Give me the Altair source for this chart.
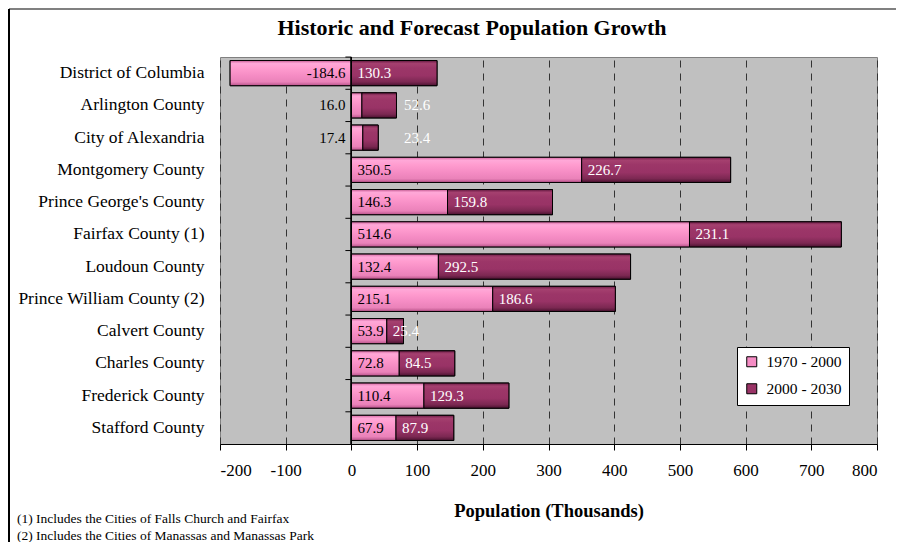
import altair as alt
import pandas as pd

counties = [
    "District of Columbia", "Arlington County", "City of Alexandria",
    "Montgomery County", "Prince George's County", "Fairfax County (1)",
    "Loudoun County", "Prince William County (2)", "Calvert County",
    "Charles County", "Frederick County", "Stafford County",
]
hist = [-184.6, 16.0, 17.4, 350.5, 146.3, 514.6, 132.4, 215.1, 53.9, 72.8, 110.4, 67.9]
fcst = [130.3, 52.6, 23.4, 226.7, 159.8, 231.1, 292.5, 186.6, 25.4, 84.5, 129.3, 87.9]
series = ["1970 - 2000", "2000 - 2030"]
x_ticks = [-200, -100, 0, 100, 200, 300, 400, 500, 600, 700, 800]
notes = [
    "(1) Includes the Cities of Falls Church and Fairfax",
    "(2) Includes the Cities of Manassas and Manassas Park",
]
title_text = "Historic and Forecast Population Growth"
x_title = "Population (Thousands)"

FONT = "Liberation Serif"
PINK = "#f58cc4"
PLUM = "#993366"

# ---- build tables ----
rows = []
labels = []
for c, h, f in zip(counties, hist, fcst):
    base = max(h, 0)
    rows.append({"county": c, "series": series[0], "x0": 0, "x1": h})
    rows.append({"county": c, "series": series[1], "x0": base, "x1": base + f})
    small = abs(h) < 20
    if h < 0 or small:
        labels.append({"county": c, "t": f"{h:.1f}", "lx": 0, "kind": "right_black"})
    else:
        labels.append({"county": c, "t": f"{h:.1f}", "lx": 0, "kind": "left_black"})
    if small:
        labels.append({"county": c, "t": f"{f:.1f}", "lx": 100, "kind": "center_white"})
    else:
        labels.append({"county": c, "t": f"{f:.1f}", "lx": base, "kind": "left_white"})
bars = pd.DataFrame(rows)
labs = pd.DataFrame(labels)
cats = pd.DataFrame({"county": counties})

xscale = alt.Scale(domain=[x_ticks[0], x_ticks[-1]], nice=False, zero=False)
xaxis = alt.Axis(
    values=x_ticks, title=x_title, grid=True, gridDash=[7, 6], gridColor="#333333",
    gridWidth=1, domainColor="black", tickColor="black", tickSize=6,
    labelFontSize=17, labelFont=FONT, labelColor="black", labelPadding=12,
    labelExpr="'' + datum.value",
    titleFont=FONT, titleFontSize=18.5, titleFontWeight="bold", titleColor="black",
    titlePadding=23,
)
yscale = alt.Scale(domain=counties, paddingInner=0.22, paddingOuter=0.11)
yaxis = alt.Axis(
    title=None, domain=False, ticks=False, grid=False, labelFont=FONT,
    labelFontSize=17.5, labelColor="black", labelPadding=16, labelLimit=300,
)


def X(field, **kw):
    return alt.X(field, type="quantitative", scale=xscale, axis=xaxis, **kw)


def Y(**kw):
    return alt.Y("county:N", sort=counties, scale=yscale, axis=yaxis, **kw)


def grad(stops):
    return alt.LinearGradient(
        gradient="linear", x1=0, y1=0, x2=0, y2=1,
        stops=[alt.GradientStop(offset=o, color=c) for o, c in stops],
    )


pink_grad = grad([(0, "#d466a0"), (0.12, "#ffa8d8"), (0.3, "#ff9ccf"),
                  (0.6, "#f58cc4"), (0.85, "#ea82b9"), (1, "#b8528a")])
plum_grad = grad([(0, "#6a1c45"), (0.12, "#a5406f"), (0.3, "#9c3668"),
                  (0.6, "#993366"), (0.85, "#7c2852"), (1, "#4a1230")])

base_bars = alt.Chart(bars).mark_bar(stroke="black", strokeWidth=1).encode(
    y=Y(), x=X("x0"), x2="x1",
    color=alt.Color(
        "series:N", scale=alt.Scale(domain=series, range=[PINK, PLUM]),
        legend=alt.Legend(
            title=None, orient="none", legendX=517, legendY=290,
            fillColor="white", strokeColor="black", padding=7,
            labelFont=FONT, labelFontSize=15.5, labelColor="black",
            symbolType="square", symbolSize=100, symbolStrokeColor="black",
            symbolStrokeWidth=1, labelOffset=7, rowPadding=10,
        ),
    ),
)

pink_bars = alt.Chart(bars).transform_filter(
    alt.datum.series == series[0]
).mark_bar(fill=pink_grad, stroke="black", strokeWidth=1).encode(
    y=Y(), x=X("x0"), x2="x1")
plum_bars = alt.Chart(bars).transform_filter(
    alt.datum.series == series[1]
).mark_bar(fill=plum_grad, stroke="black", strokeWidth=1).encode(
    y=Y(), x=X("x0"), x2="x1")


def label_layer(kind, align, dx, color):
    return alt.Chart(labs).transform_filter(alt.datum.kind == kind).mark_text(
        align=align, baseline="middle", dx=dx, font=FONT, fontSize=15, color=color
    ).encode(y=Y(), x=X("lx"), text="t:N")


lab_layers = [
    label_layer("left_black", "left", 6, "black"),
    label_layer("right_black", "right", -6, "black"),
    label_layer("left_white", "left", 6, "white"),
    label_layer("center_white", "center", 0, "white"),
]

zero_rule = alt.Chart(cats).mark_rule(color="black", strokeWidth=1).encode(
    x=alt.datum(0, scale=xscale), y=alt.value(0), y2=alt.value("height"))

zero_ticks = alt.Chart(cats).mark_rule(
    color="black", strokeWidth=1, yOffset=-3.5, x2Offset=-6
).encode(x=alt.datum(0, scale=xscale), x2=alt.datum(0), y=Y(bandPosition=0))

frame_top = alt.Chart(cats.head(1)).mark_rule(color="#808080", strokeWidth=2).encode(
    x=alt.value(-211), x2=alt.value(676), y=alt.value(-48))
frame_left = alt.Chart(cats.head(1)).mark_rule(color="black", strokeWidth=2).encode(
    x=alt.value(-211), y=alt.value(-48), y2=alt.value(485))

title_layer = alt.Chart(pd.DataFrame({"t": [title_text]})).mark_text(
    align="center", baseline="middle", font=FONT, fontSize=22,
    fontWeight="bold", color="black",
).encode(text="t:N", x=alt.value(252), y=alt.value(-29))

note_layers = [
    alt.Chart(pd.DataFrame({"t": [n]})).mark_text(
        align="left", baseline="middle", font=FONT, fontSize=13.5, color="black"
    ).encode(text="t:N", x=alt.value(-203), y=alt.value(yy))
    for n, yy in zip(notes, [462, 479])
]

chart = alt.layer(
    base_bars, pink_bars, plum_bars, zero_rule, zero_ticks, *lab_layers,
    frame_top, frame_left, title_layer, *note_layers,
).properties(
    width=657, height=387,
    autosize=alt.AutoSizeParams(type="none"),
    padding={"left": 212, "top": 49, "right": 19, "bottom": 98},
    background="white",
).configure_view(
    fill="#c0c0c0", stroke="#808080", strokeWidth=1
)

chart.save("out.html", embed_options={"renderer": "svg", "actions": False})
